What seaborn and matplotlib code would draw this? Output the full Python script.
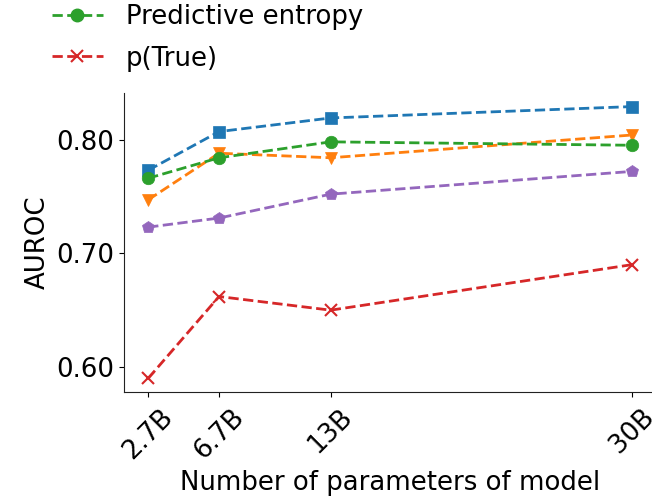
import matplotlib
matplotlib.use("Agg")
import matplotlib.pyplot as plt
import seaborn as sns
import pandas as pd
from matplotlib.lines import Line2D

sns.set_style("ticks")
plt.rcParams['font.family'] = ['DejaVu Sans']
plt.rcParams['text.color'] = 'black'
plt.rcParams['axes.labelcolor'] = 'black'
plt.rcParams['xtick.color'] = 'black'
plt.rcParams['ytick.color'] = 'black'
plt.rcParams['axes.edgecolor'] = '#222222'

params = [2.7, 6.7, 13, 30]
tick_labels = ["2.7B", "6.7B", "13B", "30B"]

blue_vals = [0.773, 0.807, 0.819, 0.829]
orange_vals = [0.747, 0.788, 0.784, 0.804]
green_vals = [0.766, 0.784, 0.798, 0.795]
purple_vals = [0.723, 0.731, 0.752, 0.772]
ptrue_vals = [0.590, 0.662, 0.650, 0.690]

series = [
    ("Series A", blue_vals, "#1f77b4", "s", 9),
    ("Series B", orange_vals, "#ff7f0e", "v", 9),
    ("Predictive entropy", green_vals, "#2ca02c", "o", 9),
    ("Series D", purple_vals, "#9467bd", "p", 9),
    ("p(True)", ptrue_vals, "#d62728", "x", 9),
]

FS = 18.7

fig = plt.figure(figsize=(6.52, 5.01), dpi=100)
ax = fig.add_axes([124/652, 1-392/501, (656-124)/652, (392-93)/501])

for name, vals, color, marker, ms in series:
    df = pd.DataFrame({"x": params, "y": vals})
    sns.lineplot(data=df, x="x", y="y", ax=ax, color=color, marker=marker,
                 markersize=ms, linestyle="--", linewidth=2,
                 markeredgecolor=color, markeredgewidth=1.5 if marker == "x" else 0.5)

ax.set_xticks(params)
ax.set_xticklabels(tick_labels, rotation=45, fontsize=FS)
ax.tick_params(axis="x", pad=5)
ax.set_yticks([0.6, 0.7, 0.8])
ax.set_yticklabels(["0.60", "0.70", "0.80"], fontsize=FS)
ax.set_xlabel("Number of parameters of model", fontsize=FS, labelpad=4)
ax.set_ylabel("AUROC", fontsize=FS)
sns.despine(ax=ax)

handles = [
    Line2D([], [], color="#2ca02c", marker="o", linestyle="--", linewidth=2, markersize=9),
    Line2D([], [], color="#d62728", marker="x", linestyle="--", linewidth=2, markersize=9, markeredgewidth=1.5),
]
fig.legend(handles, ["Predictive entropy", "p(True)"], loc="upper left",
           bbox_to_anchor=(52/652, 1-4/501), frameon=False, fontsize=FS,
           borderaxespad=0, borderpad=0, labelspacing=0.6, handlelength=1.95,
           handletextpad=0.9)

fig.savefig("out.png", dpi=100)
